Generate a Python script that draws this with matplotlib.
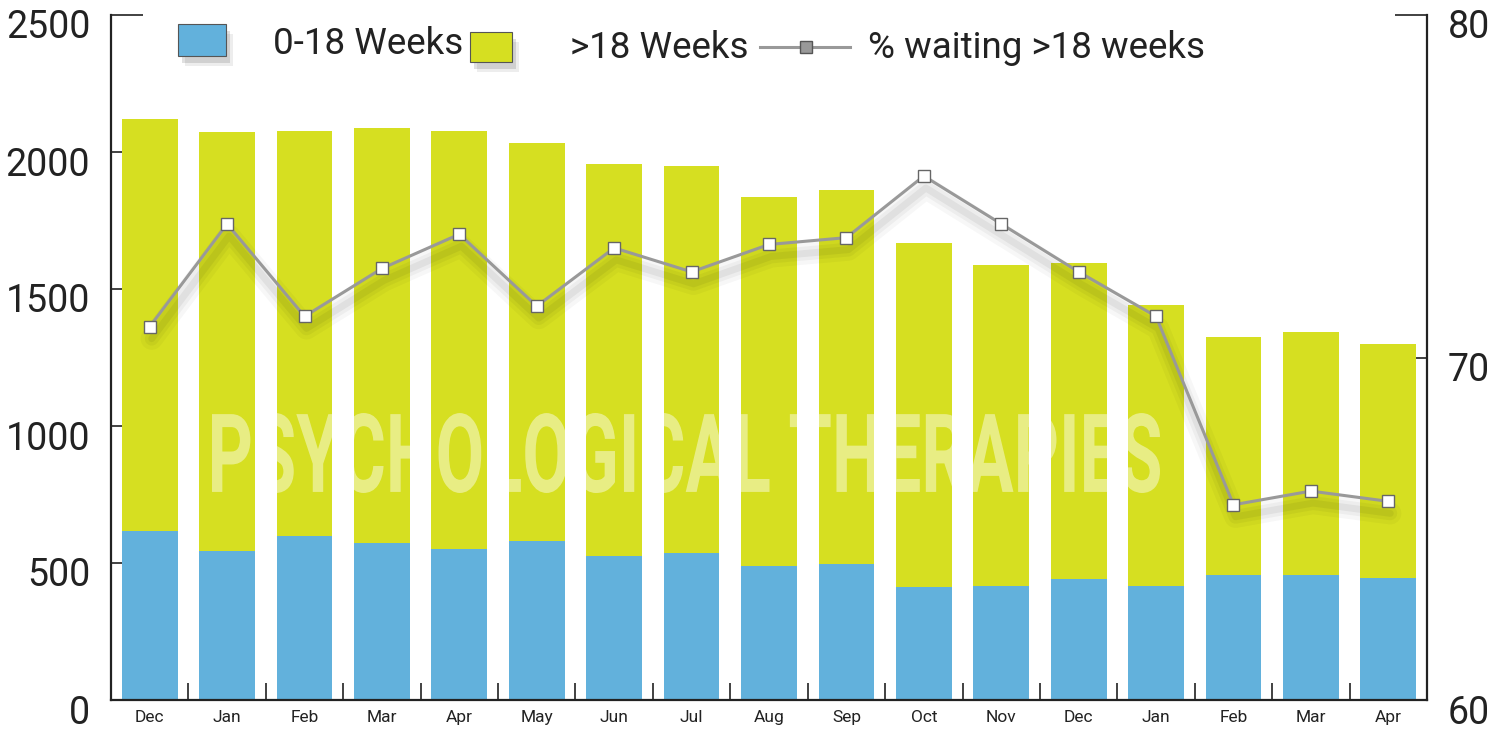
import matplotlib
matplotlib.use("Agg")
import matplotlib.pyplot as plt
import matplotlib.patheffects as pe
from matplotlib.patches import Rectangle, PathPatch
from matplotlib.lines import Line2D
from matplotlib.textpath import TextPath
from matplotlib.font_manager import FontProperties
from matplotlib.transforms import Affine2D, ScaledTranslation
import numpy as np

plt.rcParams['font.family'] = ['Roboto', 'DejaVu Sans']

# data
months = ['Dec', 'Jan', 'Feb', 'Mar', 'Apr', 'May', 'Jun', 'Jul', 'Aug',
          'Sep', 'Oct', 'Nov', 'Dec', 'Jan', 'Feb', 'Mar', 'Apr']
under_18 = [617, 544, 599, 573, 551, 580, 526, 536, 489,
            496, 412, 416, 442, 416, 456, 456, 445]
total = [2120, 2073, 2077, 2088, 2077, 2033, 1956, 1949, 1836,
         1861, 1668, 1588, 1595, 1442, 1325, 1343, 1299]
over_18 = [t - u for t, u in zip(total, under_18)]
pct_over_18 = [70.9, 73.9, 71.2, 72.6, 73.6, 71.5, 73.2, 72.5, 73.3,
               73.5, 75.3, 73.9, 72.5, 71.2, 65.7, 66.1, 65.8]

BLUE = '#62b1dc'
YELLOW = '#d6df21'
LINE = '#999999'
W, H = 1502, 729

fig = plt.figure(figsize=(W / 100, H / 100), dpi=100)
ax = fig.add_axes([111 / W, 29 / H, (1427 - 111) / W, (700 - 15) / H])
ax2 = ax.twinx()
# bars axes on top so the right-hand ticks sit under the bars
ax.set_zorder(ax2.get_zorder() + 1)
ax.patch.set_visible(False)

x = np.arange(len(months))
ax.bar(x, under_18, width=0.72, color=BLUE, zorder=1)
ax.bar(x, over_18, width=0.72, bottom=under_18, color=YELLOW, zorder=1)

# soft shadow under the line (right-hand scale, shifted down a little)
shadow_tr = ax2.transData + ScaledTranslation(2 / 100, -12 / 100, fig.dpi_scale_trans)
for lw, a in [(16, 0.03), (10, 0.04), (5, 0.05)]:
    ax.plot(x, pct_over_18, transform=shadow_tr, color='k', lw=lw, alpha=a,
            solid_joinstyle='round', solid_capstyle='round', zorder=3)

# line drawn with the right-hand scale
ax.plot(x, pct_over_18, transform=ax2.transData, color=LINE, lw=2.2,
        marker='s', ms=8.5, mfc='white', mec='#666666', mew=1.0, zorder=4)

ax.set_xlim(-0.5, len(months) - 0.5)
ax.set_ylim(0, 2500)
ax2.set_ylim(60, 80)

# spines
for s in ['left', 'bottom', 'right']:
    ax.spines[s].set_linewidth(1.6)
    ax.spines[s].set_color('#222222')
ax.spines['top'].set_visible(False)
for s in ax2.spines.values():
    s.set_visible(False)

ax.set_axisbelow(True)
ax.set_yticks([0, 500, 1000, 1500, 2000, 2500])
ax.tick_params(axis='y', direction='in', length=23, width=1.3, color='#333333',
               labelsize=27, pad=15, labelcolor='#222222')
ax2.set_yticks([60, 70, 80])
ax2.tick_params(axis='y', direction='in', length=23, width=1.3, color='#333333',
                labelsize=27, pad=15, labelcolor='#222222')

ax.set_xticks(x)
ax.set_xticklabels(months)
ax.set_xticks(x[:-1] + 0.5, minor=True)
ax.tick_params(axis='x', which='major', length=0, labelsize=12.5, pad=7, labelcolor='#222222')
ax.tick_params(axis='x', which='minor', direction='in', length=12, width=1.3, color='#333333')

# tick labels sit a bit lower than their ticks in the reference
shift = ScaledTranslation(0, -9 / 100, fig.dpi_scale_trans)
for lab in ax.get_yticklabels() + ax2.get_yticklabels():
    lab.set_transform(lab.get_transform() + shift)

# watermark
tp = TextPath((0, 0), 'PSYCHOLOGICAL THERAPIES', size=100,
              prop=FontProperties(family='Roboto', weight='bold'))
ext = tp.get_extents()
sx = (1160 - 212) / ext.width
sy = 80 / ext.height
wm_tr = Affine2D().translate(-ext.x0, -ext.y0).scale(sx, sy).translate(212, H - 493)
wm = PathPatch(tp, transform=wm_tr, facecolor='white', edgecolor='none', alpha=0.45, zorder=3)
ax.add_artist(wm)
wm.set_clip_on(False)

# legend drawn by hand to follow the reference layout
def fx(px):
    return px / W


def fy(py):
    return 1 - py / H


shadow = [pe.SimplePatchShadow(offset=(5, -7), shadow_rgbFace='k', alpha=0.07),
          pe.SimplePatchShadow(offset=(3, -5), shadow_rgbFace='k', alpha=0.12),
          pe.Normal()]
fig.add_artist(Rectangle((fx(178), fy(56)), 48 / W, 32 / H, transform=fig.transFigure,
                         facecolor=BLUE, edgecolor='#555555', lw=0.8, path_effects=shadow))
fig.add_artist(Rectangle((fx(470), fy(62)), 42 / W, 30 / H, transform=fig.transFigure,
                         facecolor=YELLOW, edgecolor='#555555', lw=0.8, path_effects=shadow))
fig.add_artist(Line2D([fx(760), fx(850)], [fy(47), fy(47)], transform=fig.transFigure,
                      color=LINE, lw=2.2))
fig.add_artist(Line2D([fx(806)], [fy(47)], transform=fig.transFigure, marker='s',
                      ms=8, mfc='#999999', mec='#555555', mew=1.0))
fig.text(fx(273), fy(44), '0-18 Weeks', fontsize=26.5, va='center', color='#222222')
fig.text(fx(570), fy(48), '>18 Weeks', fontsize=26.5, va='center', color='#222222')
fig.text(fx(868), fy(48), '% waiting >18 weeks', fontsize=26.5, va='center', color='#222222')

fig.savefig('out.png', dpi=100)
